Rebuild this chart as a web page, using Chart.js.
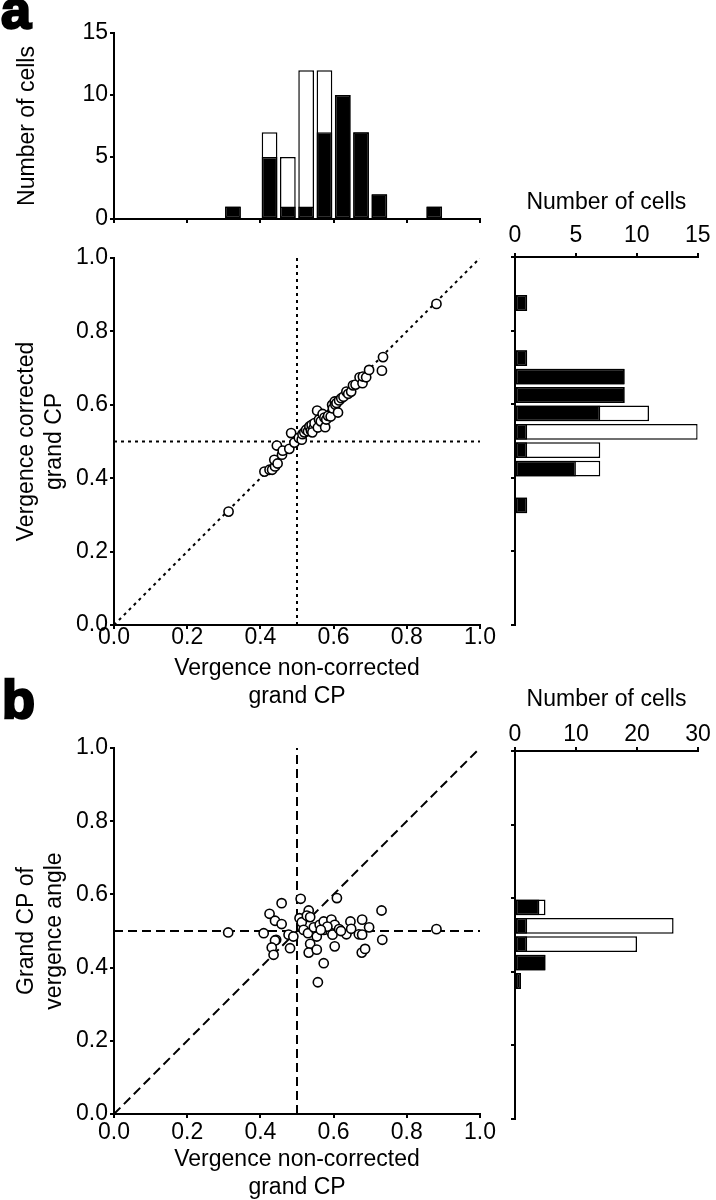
<!DOCTYPE html>
<html>
<head>
<meta charset="utf-8">
<script src="https://cdn.jsdelivr.net/npm/chart.js@4.4.1/dist/chart.umd.min.js"></script>
<style>
  html, body { margin: 0; padding: 0; background: #fff; }
  #wrap { position: relative; width: 716px; height: 1200px; }
  #wrap canvas { position: absolute; left: 0; top: 0; }
</style>
</head>
<body>
<div id="wrap">
  <canvas id="histTop" width="716" height="1200"></canvas>
  <canvas id="scatterA" width="716" height="1200"></canvas>
  <canvas id="histRightA" width="716" height="1200"></canvas>
  <canvas id="scatterB" width="716" height="1200"></canvas>
  <canvas id="histRightB" width="716" height="1200"></canvas>
</div>
<script>
// --- data ---
const cpTicks = [0, 0.2, 0.4, 0.6, 0.8, 1.0];
const countTicksA = [0, 5, 10, 15];
const countTicksB = [0, 10, 20, 30];

// bin centres (bin width 0.05)
const binsA = [0.325, 0.425, 0.475, 0.525, 0.575, 0.625, 0.675, 0.725, 0.875];
const topBlack = [1, 5, 1, 1, 7, 10, 7, 2, 1];
const topTotal = [1, 7, 5, 12, 12, 10, 7, 2, 1];
const rightABlack = [1, 5, 1, 1, 7, 9, 9, 1, 1];
const rightATotal = [1, 7, 7, 15, 11, 9, 9, 1, 1];

const binsB = [0.375, 0.425, 0.475, 0.525, 0.575];
const rightBBlack = [1, 5, 2, 2, 4];
const rightBTotal = [1, 5, 20, 26, 5];

// vergence non-corrected (x) vs corrected (y)
const pointsA = [
  [0.313, 0.309],
  [0.411, 0.418], [0.425, 0.423], [0.432, 0.423], [0.440, 0.432], [0.438, 0.450], [0.445, 0.489], [0.447, 0.440],
  [0.459, 0.464], [0.461, 0.475], [0.479, 0.480], [0.484, 0.523], [0.493, 0.497],
  [0.505, 0.510], [0.513, 0.505], [0.515, 0.520], [0.520, 0.525], [0.525, 0.532], [0.530, 0.528],
  [0.534, 0.541], [0.538, 0.530], [0.540, 0.545], [0.545, 0.535], [0.548, 0.550], [0.542, 0.525],
  [0.555, 0.584], [0.557, 0.538], [0.560, 0.560], [0.565, 0.555], [0.570, 0.575], [0.575, 0.565],
  [0.577, 0.539], [0.580, 0.560], [0.585, 0.570], [0.592, 0.568], [0.596, 0.600], [0.598, 0.590],
  [0.603, 0.609], [0.605, 0.600], [0.608, 0.605], [0.612, 0.579], [0.615, 0.612], [0.621, 0.618],
  [0.627, 0.622], [0.635, 0.636], [0.640, 0.630], [0.648, 0.636],
  [0.653, 0.653], [0.660, 0.655], [0.671, 0.675], [0.679, 0.659], [0.680, 0.677], [0.689, 0.675], [0.697, 0.695],
  [0.735, 0.730], [0.732, 0.693],
  [0.881, 0.875]
];

// vergence non-corrected (x) vs grand CP of vergence angle (y)
const pointsB = [
  [0.312, 0.496], [0.881, 0.505], [0.409, 0.494], [0.425, 0.547], [0.440, 0.528], [0.458, 0.576],
  [0.458, 0.519], [0.443, 0.476], [0.440, 0.474], [0.431, 0.455], [0.436, 0.435], [0.477, 0.490],
  [0.490, 0.485], [0.481, 0.453], [0.510, 0.588], [0.507, 0.535], [0.513, 0.524], [0.518, 0.503],
  [0.532, 0.556], [0.527, 0.542], [0.536, 0.538], [0.530, 0.494], [0.536, 0.465], [0.532, 0.441],
  [0.546, 0.510], [0.554, 0.485], [0.554, 0.449], [0.562, 0.517], [0.573, 0.412], [0.557, 0.360],
  [0.573, 0.526], [0.573, 0.503], [0.594, 0.531], [0.592, 0.499], [0.597, 0.490], [0.603, 0.517],
  [0.609, 0.590], [0.615, 0.505], [0.603, 0.458], [0.635, 0.491], [0.646, 0.526], [0.648, 0.506],
  [0.669, 0.491], [0.678, 0.531], [0.678, 0.490], [0.677, 0.441], [0.686, 0.451], [0.697, 0.510],
  [0.731, 0.556], [0.733, 0.476], [0.620, 0.500], [0.583, 0.512], [0.565, 0.503]
];

const diagLine = [[0, 0], [1, 1]];
const midVertical = [[0.5, 0], [0.5, 1]];
const midHorizontal = [[0, 0.5], [1, 0.5]];

// --- helpers ---
const FONT = "'Liberation Sans', Arial, sans-serif";
const toXY = arr => arr.map(p => ({ x: p[0], y: p[1] }));

function axis(o) {
  return {
    type: 'linear',
    min: o.min, max: o.max,
    position: o.position,
    offset: false,
    afterBuildTicks: s => { s.ticks = o.ticks.map(v => ({ value: v })); },
    afterFit: s => {
      if (o.width != null) s.width = o.width;
      if (o.height != null) s.height = o.height;
    },
    grid: { display: true, drawOnChartArea: false, drawTicks: true, tickLength: 4, color: '#000', lineWidth: 2, offset: false },
    border: { display: true, color: '#000', width: 2 },
    ticks: {
      display: o.labels !== false,
      color: '#000',
      padding: o.pad || 0,
      font: { family: FONT, size: 23, lineHeight: 1 },
      callback: o.fmt || (v => v)
    },
    title: o.title
      ? { display: true, text: o.title, color: '#000', font: { family: FONT, size: 23, lineHeight: 1.2 }, padding: o.titlePad }
      : { display: false }
  };
}

function panelLabel(txt, x, y) {
  return {
    id: 'panel_' + txt,
    afterDraw(chart) {
      const c = chart.ctx;
      c.save();
      c.font = 'bold 54px ' + FONT;
      c.fillStyle = '#000';
      c.strokeStyle = '#000';
      c.lineWidth = 2.5;
      c.textBaseline = 'alphabetic';
      c.fillText(txt, x, y);
      c.strokeText(txt, x, y);
      c.restore();
    }
  };
}

function baseOptions(padding) {
  return {
    responsive: false,
    animation: false,
    events: [],
    layout: { padding: padding },
    plugins: { legend: { display: false }, tooltip: { enabled: false } }
  };
}

function barSets(bins, black, total, horizontal) {
  const mk = vals => bins.map((b, i) => horizontal ? { x: vals[i], y: b } : { x: b, y: vals[i] });
  const common = { borderColor: '#000', borderWidth: 1.5, borderSkipped: false, grouped: false, barPercentage: 0.86, categoryPercentage: 1 };
  return [
    Object.assign({ data: mk(black), backgroundColor: '#000' }, common),
    Object.assign({ data: mk(total), backgroundColor: '#fff' }, common)
  ];
}

function lineSet(pts, dash) {
  return { data: toXY(pts), showLine: true, pointRadius: 0, borderColor: '#000', borderWidth: 2, borderDash: dash, fill: false };
}

function pointSet(pts) {
  return { data: toXY(pts), pointRadius: 4.6, pointBorderWidth: 1.6, pointBackgroundColor: '#fff', pointBorderColor: '#000', showLine: false };
}

const fmt1 = v => Number(v).toFixed(1);

// --- panel a: top histogram ---
const optTop = baseOptions({ left: 0, top: 33, right: 236, bottom: 1200 - 219 - 10 });
optTop.scales = {
  x: axis({ min: 0, max: 1, position: 'bottom', ticks: cpTicks, labels: false, height: 10 }),
  y: axis({ min: 0, max: 15, position: 'left', ticks: countTicksA, width: 114, pad: 2,
            title: 'Number of cells', titlePad: { top: 14, bottom: 0 } })
};
new Chart(document.getElementById('histTop'), {
  type: 'bar',
  data: { datasets: barSets(binsA, topBlack, topTotal, false) },
  options: optTop,
  plugins: [panelLabel('a', 1, 28)]
});

// --- panel a: scatter ---
const optA = baseOptions({ left: 0, top: 258, right: 236, bottom: 1200 - 625 - 90 });
optA.scales = {
  x: axis({ min: 0, max: 1, position: 'bottom', ticks: cpTicks, height: 90, pad: -2.5, fmt: fmt1,
            title: ['Vergence non-corrected', 'grand CP'], titlePad: { top: 0, bottom: 5 } }),
  y: axis({ min: 0, max: 1, position: 'left', ticks: cpTicks, width: 114, pad: 2, fmt: fmt1,
            title: ['Vergence corrected', 'grand CP'], titlePad: { top: 13, bottom: 0 } })
};
new Chart(document.getElementById('scatterA'), {
  type: 'scatter',
  data: {
    datasets: [
      pointSet(pointsA),
      lineSet(diagLine, [3, 4]),
      lineSet(midVertical, [3, 4]),
      lineSet(midHorizontal, [3, 4])
    ]
  },
  options: optA
});

// --- panel a: right histogram ---
const optRA = baseOptions({ left: 515 - 20, top: 185, right: 716 - 698, bottom: 1200 - 625 });
optRA.indexAxis = 'y';
optRA.scales = {
  x: axis({ min: 0, max: 15, position: 'top', ticks: countTicksA, height: 72, pad: 5.5,
            title: 'Number of cells', titlePad: { top: 4, bottom: 0 } }),
  y: axis({ min: 0, max: 1, position: 'left', ticks: cpTicks, labels: false, width: 20 })
};
new Chart(document.getElementById('histRightA'), {
  type: 'bar',
  data: { datasets: barSets(binsA, rightABlack, rightATotal, true) },
  options: optRA
});

// --- panel b: scatter ---
const optB = baseOptions({ left: 0, top: 748, right: 236, bottom: 0 });
optB.scales = {
  x: axis({ min: 0, max: 1, position: 'bottom', ticks: cpTicks, height: 86, pad: 3.5, fmt: fmt1,
            title: ['Vergence non-corrected', 'grand CP'], titlePad: { top: 0, bottom: -1 } }),
  y: axis({ min: 0, max: 1, position: 'left', ticks: cpTicks, width: 114, pad: 2, fmt: fmt1,
            title: ['Grand CP of', 'vergence angle'], titlePad: { top: 13, bottom: 0 } })
};
new Chart(document.getElementById('scatterB'), {
  type: 'scatter',
  data: {
    datasets: [
      pointSet(pointsB),
      lineSet(diagLine, [9, 5]),
      lineSet(midVertical, [9, 5]),
      lineSet(midHorizontal, [9, 5])
    ]
  },
  options: optB,
  plugins: [panelLabel('b', 2, 718)]
});

// --- panel b: right histogram ---
const optRB = baseOptions({ left: 515 - 20, top: 679, right: 716 - 698, bottom: 1200 - 1119 });
optRB.indexAxis = 'y';
optRB.scales = {
  x: axis({ min: 0, max: 30, position: 'top', ticks: countTicksB, height: 72, pad: 0.5,
            title: 'Number of cells', titlePad: { top: 7, bottom: 0 } }),
  y: axis({ min: 0, max: 1, position: 'left', ticks: cpTicks, labels: false, width: 20 })
};
new Chart(document.getElementById('histRightB'), {
  type: 'bar',
  data: { datasets: barSets(binsB, rightBBlack, rightBTotal, true) },
  options: optRB
});
</script>
</body>
</html>
